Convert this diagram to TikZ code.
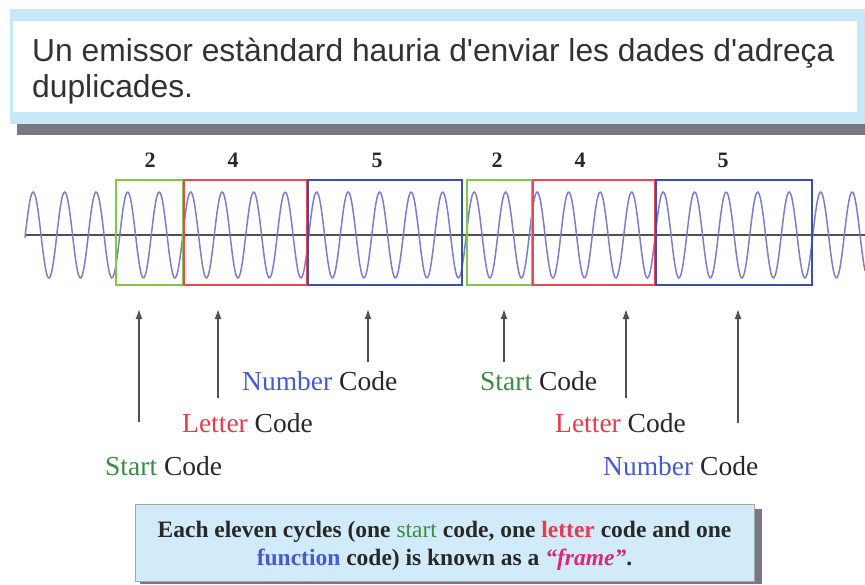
\documentclass[tikz,border=0pt]{standalone}
\usepackage{fontspec}
\setmainfont{Liberation Serif}
\newfontfamily\topsans{Liberation Sans}
\usetikzlibrary{arrows.meta}
\definecolor{lightband}{RGB}{200,232,250}
\definecolor{shadowgray}{RGB}{120,120,130}
\definecolor{wavecol}{RGB}{125,125,200}
\definecolor{axiscol}{RGB}{80,80,80}
\definecolor{gbox}{RGB}{130,200,70}
\definecolor{rbox}{RGB}{235,70,90}
\definecolor{bbox}{RGB}{60,80,170}
\definecolor{gtext}{RGB}{60,140,70}
\definecolor{rtext}{RGB}{230,60,80}
\definecolor{btext}{RGB}{70,90,210}
\definecolor{ktext}{RGB}{40,40,40}
\definecolor{pinktext}{RGB}{220,40,120}
\definecolor{notefill}{RGB}{210,235,250}
\definecolor{topgray}{RGB}{50,50,50}
\tikzset{
  codebox/.style={line width=2.5pt},
  digit/.style={anchor=base, inner sep=0pt, font=\fontsize{22}{22}\selectfont\bfseries, text=ktext},
  codelabel/.style={anchor=base west, inner sep=0pt, font=\fontsize{27.5}{27.5}\selectfont, text=ktext},
  pointer/.style={draw=axiscol, line width=1.4pt, -{Latex[length=10pt,width=7pt]}}
}
\begin{document}
\begin{tikzpicture}[x=1pt,y=-1pt]
\useasboundingbox (0,0) rectangle (865,584);
\fill[white] (0,0) rectangle (865,584);
% top note
\fill[shadowgray] (17,118) rectangle (865,135);
\fill[lightband] (10,9) rectangle (865,124);
\fill[white] (13,21) rectangle (857,112);
\node[anchor=north west, inner sep=0pt, align=left, text=topgray,
      font=\topsans\fontsize{31.8}{36}\selectfont] (note) at (32,38)
  {Un emissor estàndard hauria d'enviar les dades d'adreça\\duplicades.};
% axis and wave
\coordinate (axL) at (25,235);
\coordinate (axR) at (865,235);
\draw[axiscol, line width=1.2pt] (axL) -- (axR);
\draw[wavecol, line width=1.5pt] plot[domain=25:865, samples=700, smooth]
  (\x, {235-43*sin((\x-25.3)*11.428571)});
% code boxes
\draw[codebox, gbox] (116,180) rectangle (183,285);
\draw[codebox, rbox] (184,180) rectangle (307,285);
\draw[codebox, bbox] (308,180) rectangle (462,285);
\draw[codebox, gbox] (467,180) rectangle (532,285);
\draw[codebox, rbox] (533,180) rectangle (655,285);
\draw[codebox, bbox] (656,180) rectangle (812,285);
% digits
\node[digit] (d1) at (150,167) {2};
\node[digit] (d2) at (233,167) {4};
\node[digit] (d3) at (377,167) {5};
\node[digit] (d4) at (497,167) {2};
\node[digit] (d5) at (580,167) {4};
\node[digit] (d6) at (723,167) {5};
% labels
\node[codelabel] (s1) at (105,475) {\textcolor{gtext}{Start} Code};
\node[codelabel] (l1) at (182,432) {\textcolor{rtext}{Letter} Code};
\node[codelabel] (n1) at (242,390) {\textcolor{btext}{Number} Code};
\node[codelabel] (s2) at (480,390) {\textcolor{gtext}{Start} Code};
\node[codelabel] (l2) at (555,432) {\textcolor{rtext}{Letter} Code};
\node[codelabel] (n2) at (603,475) {\textcolor{btext}{Number} Code};
% arrows
\coordinate (a1b) at (139,422); \coordinate (a1t) at (139,309);
\coordinate (a2b) at (218,398); \coordinate (a2t) at (218,309);
\coordinate (a3b) at (368,362); \coordinate (a3t) at (368,309);
\coordinate (a4b) at (504,362); \coordinate (a4t) at (504,309);
\coordinate (a5b) at (626,398); \coordinate (a5t) at (626,309);
\coordinate (a6b) at (738,423); \coordinate (a6t) at (738,309);
\draw[pointer] (a1b) -- (a1t);
\draw[pointer] (a2b) -- (a2t);
\draw[pointer] (a3b) -- (a3t);
\draw[pointer] (a4b) -- (a4t);
\draw[pointer] (a5b) -- (a5t);
\draw[pointer] (a6b) -- (a6t);
% bottom note
\fill[shadowgray] (140,509) rectangle (762,584);
\draw[fill=notefill, draw=gray!70, line width=0.8pt] (135,504) rectangle (754,581);
\node[anchor=north, inner sep=0pt, align=center, text=ktext,
      font=\fontsize{23.5}{28}\selectfont\bfseries] (frame) at (444.5,521)
  {Each eleven cycles (one \textcolor{gtext}{\mdseries start} code, one \textcolor{rtext}{letter} code and one\\
   \textcolor{btext}{function} code) is known as a \textcolor{pinktext}{\itshape “frame”}.};
\end{tikzpicture}
\end{document}
